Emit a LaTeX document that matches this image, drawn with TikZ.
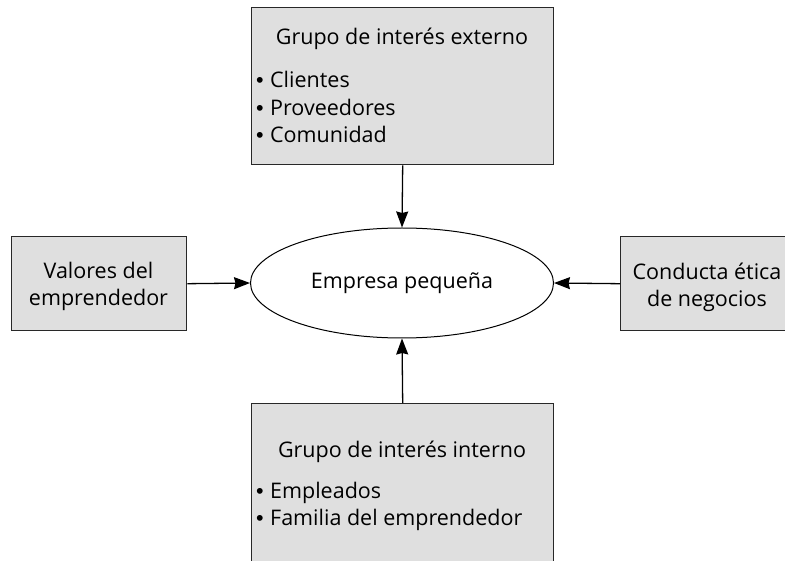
\documentclass[tikz,border=0pt]{standalone}
\usepackage{fontspec}
\setmainfont{Open Sans}
\newfontfamily\bulfont{Liberation Sans}
\usetikzlibrary{arrows.meta,shapes.geometric}
\definecolor{boxfill}{RGB}{223,223,223}
\definecolor{edge}{RGB}{40,40,40}
\newcommand{\bul}{{\bulfont\textbullet}\hspace{0.3em}}
\begin{document}
\begin{tikzpicture}[x=1pt,y=-1pt,
  box/.style={draw=edge, line width=1.4pt, fill=boxfill, inner sep=0pt, anchor=north west},
  txt/.style={font=\fontsize{21.5}{27.5}\selectfont, inner sep=0pt},
  conn/.style={line width=1.3pt, -{Stealth[length=16pt,width=12pt,inset=1.5pt]}}]
\useasboundingbox (0,0) rectangle (785,561);
\clip (0,0) rectangle (785,561);
\fill[white] (0,0) rectangle (785,561);
% boxes
\node[box, minimum width=302pt, minimum height=157pt] (top) at (251,7) {};
\node[box, minimum width=302pt, minimum height=180pt] (bot) at (251,403) {};
\node[box, minimum width=175pt, minimum height=94pt] (lft) at (11,236) {};
\node[box, minimum width=175pt, minimum height=94pt] (rgt) at (620,236) {};
\node[ellipse, draw=black, line width=1pt, fill=white, minimum width=303pt, minimum height=110pt, inner sep=0pt, font=\fontsize{21.5}{27.5}\selectfont] (ell) at (402,283) {Empresa pequeña};
% texts
\node[txt, anchor=base] (toptitle) at (402,45) {Grupo de interés externo};
\node[txt, anchor=base west] (top1) at (256,88) {\bul Clientes};
\node[txt, anchor=base west] (top2) at (256,115.5) {\bul Proveedores};
\node[txt, anchor=base west] (top3) at (256,143) {\bul Comunidad};
\node[txt, anchor=base] (bottitle) at (402,457) {Grupo de interés interno};
\node[txt, anchor=base west] (bot1) at (256,498) {\bul Empleados};
\node[txt, anchor=base west] (bot2) at (256,525) {\bul Familia del emprendedor};
\node[txt, anchor=base] (lft1) at (98.5,279) {Valores del};
\node[txt, anchor=base] (lft2) at (98.5,306) {emprendedor};
\node[txt, anchor=base] (rgt1) at (707,280) {Conducta ética};
\node[txt, anchor=base] (rgt2) at (707,307) {de negocios};
% connectors
\draw[conn] (top.south) -- (ell.north);
\draw[conn] (bot.north) -- (ell.south);
\draw[conn] (lft.east) -- (ell.west);
\draw[conn] (rgt.west) -- (ell.east);
\end{tikzpicture}
\end{document}
